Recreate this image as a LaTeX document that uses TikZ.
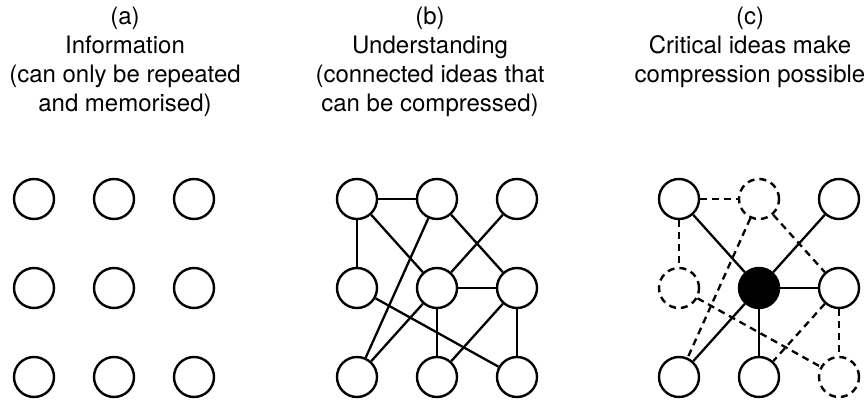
\documentclass[tikz,border=0pt]{standalone}
\usepackage{fontspec}
\setmainfont{TeX Gyre Heros}
\begin{document}
\begin{tikzpicture}[x=1pt,y=-1pt,
  idea/.style={circle,draw=black,line width=2.4pt,minimum size=40pt,inner sep=0pt,fill=white},
  hidden/.style={idea,dash pattern=on 7pt off 5pt},
  crit/.style={idea,fill=black},
  link/.style={line width=2.3pt},
  weak/.style={line width=2.3pt,dash pattern=on 7pt off 5pt},
  caption/.style={align=center,anchor=north,inner sep=0pt,font=\fontsize{24}{26}\selectfont}]
\useasboundingbox (0,0) rectangle (866,403);
% captions
\node[caption] (ta) at (125,7) {(a)\\[3pt]Information\\[3pt](can only be repeated\\[3pt]and memorised)};
\node[caption] (tb) at (430,7) {(b)\\[3pt]Understanding\\[3pt](connected ideas that\\[3pt]can be compressed)};
\node[caption] (tc) at (750,7) {(c)\\[3pt]Critical ideas make\\[3pt]compression possible};
% panel a
\foreach \r/\y in {1/199,2/288,3/377}{
  \foreach \c/\x in {1/34,2/114,3/194}{
    \node[idea] (a\r\c) at (\x,\y) {};
  }
}
% panel b
\foreach \r/\y in {1/199,2/288,3/377}{
  \foreach \c/\x in {1/357,2/437,3/517}{
    \node[idea] (b\r\c) at (\x,\y) {};
  }
}
\draw[link] (b11) -- (b12);
\draw[link] (b11) -- (b21);
\draw[link] (b11) -- (b22);
\draw[link] (b12) -- (b31);
\draw[link] (b12) -- (b23);
\draw[link] (b13) -- (b22);
\draw[link] (b22) -- (b23);
\draw[link] (b22) -- (b32);
\draw[link] (b22) -- (b31);
\draw[link] (b21) -- (b33);
\draw[link] (b23) -- (b32);
\draw[link] (b23) -- (b33);
% panel c
\node[idea]   (c11) at (679,199) {};
\node[hidden] (c12) at (759,199) {};
\node[idea]   (c13) at (839,199) {};
\node[hidden] (c21) at (679,288) {};
\node[crit]   (c22) at (759,288) {};
\node[idea]   (c23) at (839,288) {};
\node[idea]   (c31) at (679,377) {};
\node[idea]   (c32) at (759,377) {};
\node[hidden] (c33) at (839,377) {};
\draw[weak] (c11) -- (c12);
\draw[weak] (c11) -- (c21);
\draw[link] (c11) -- (c22);
\draw[weak] (c12) -- (c31);
\draw[weak] (c12) -- (c23);
\draw[link] (c13) -- (c22);
\draw[link] (c22) -- (c23);
\draw[link] (c22) -- (c32);
\draw[link] (c22) -- (c31);
\draw[weak] (c21) -- (c33);
\draw[weak] (c23) -- (c32);
\draw[weak] (c23) -- (c33);
\end{tikzpicture}
\end{document}
